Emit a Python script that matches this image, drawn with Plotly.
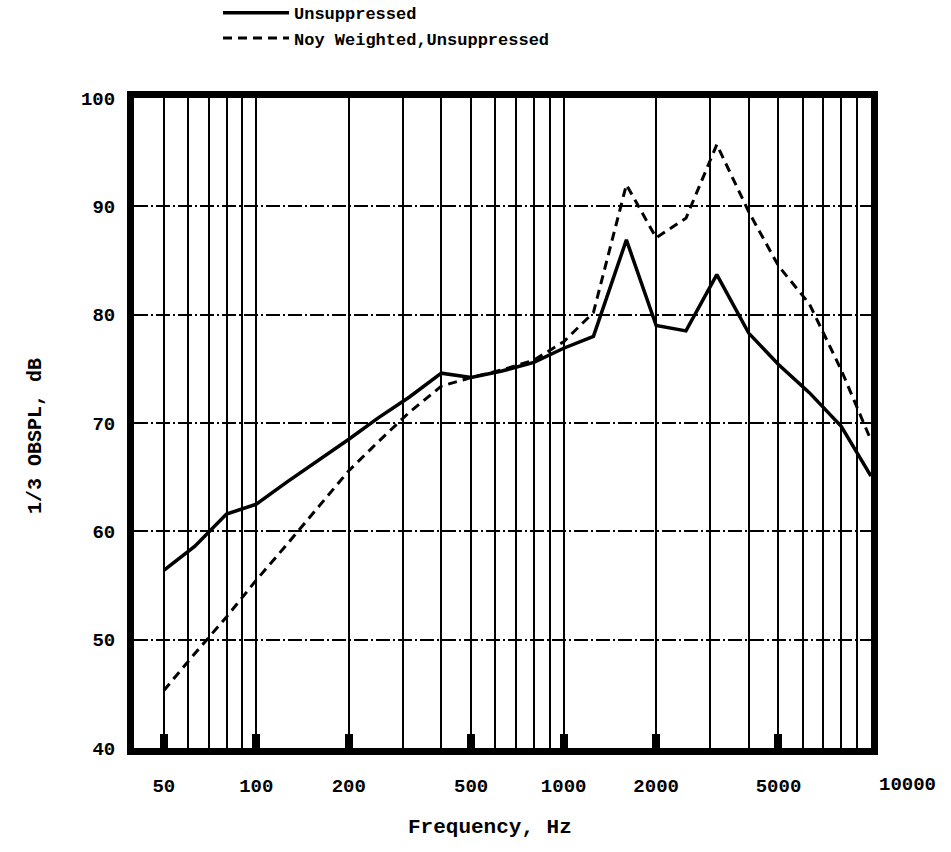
import plotly.graph_objects as go
import math

# ---- data ----
freqs = [50, 63, 80, 100, 125, 160, 200, 250, 315, 400, 500, 630, 800,
         1000, 1250, 1600, 2000, 2500, 3150, 4000, 5000, 6300, 8000, 10000]
unsuppressed = [56.4, 58.6, 61.6, 62.5, 64.5, 66.6, 68.5, 70.5, 72.4, 74.6,
                74.2, 74.8, 75.6, 76.9, 78.0, 86.9, 79.0, 78.5, 83.7, 78.3,
                75.4, 72.8, 69.7, 65.1]
noy_weighted = [45.3, 48.7, 52.1, 55.5, 58.7, 62.3, 65.6, 68.3, 71.0, 73.4,
                74.2, 74.9, 75.8, 77.5, 80.2, 92.0, 87.1, 88.9, 95.7, 89.5,
                84.5, 81.0, 74.9, 68.4]

x_tick_vals = [50, 100, 200, 500, 1000, 2000, 5000]
x_tick_text = ["50", "100", "200", "500", "1000", "2000", "5000"]
x_last_label = "10000"
x_minor_grid = [60, 70, 80, 90, 300, 400, 600, 700, 800, 900,
                3000, 4000, 6000, 7000, 8000, 9000]
y_tick_vals = [40, 50, 60, 70, 80, 90, 100]

FONT = "Liberation Mono"
L, R = 134, 80
PW = 951 - L - R

fig = go.Figure()
fig.add_trace(go.Scatter(
    x=freqs, y=unsuppressed, mode="lines", name="Unsuppressed",
    line=dict(color="black", width=3.5)))
fig.add_trace(go.Scatter(
    x=freqs, y=noy_weighted, mode="lines", name="Noy Weighted,Unsuppressed",
    line=dict(color="black", width=3, dash="9px,6px")))

fig.update_layout(
    width=951, height=852,
    margin=dict(l=L, r=R, t=98, b=104, autoexpand=False),
    paper_bgcolor="white", plot_bgcolor="white",
    font=dict(family=FONT, color="black", size=19),
    showlegend=True,
    legend=dict(
        x=(218 - L) / PW, y=1.158, xanchor="left", yanchor="top",
        bgcolor="rgba(0,0,0,0)",
        font=dict(family=FONT, size=17, weight="bold"),
        tracegroupgap=0, itemwidth=66,
    ),
    xaxis=dict(
        type="log",
        range=[math.log10(40), math.log10(10000)],
        tickvals=x_tick_vals, ticktext=x_tick_text,
        ticks="inside", ticklen=14, tickwidth=8, tickcolor="black",
        ticklabelstandoff=14,
        tickfont=dict(family=FONT, size=19, weight="bold"),
        showgrid=True, gridcolor="black", gridwidth=2,
        minor=dict(tickvals=x_minor_grid, showgrid=True,
                   gridcolor="black", gridwidth=2, ticks=""),
        showline=True, linecolor="black", linewidth=7, mirror=True,
        zeroline=False,
    ),
    yaxis=dict(
        range=[40, 100],
        tickvals=y_tick_vals,
        ticks="",
        ticklabelstandoff=8,
        tickfont=dict(family=FONT, size=19, weight="bold"),
        showgrid=True, gridcolor="black", gridwidth=1.5,
        griddash="14px,3px,2px,3px",
        showline=True, linecolor="black", linewidth=7, mirror=True,
        zeroline=False,
    ),
    annotations=[
        dict(x=4, y=-0.057, xref="x", yref="paper", text=x_last_label,
             showarrow=False, xshift=36, yanchor="middle",
             font=dict(family=FONT, size=19, weight="bold")),
        dict(x=(490 - L) / PW, y=-0.123, xref="paper", yref="paper",
             text="Frequency, Hz", showarrow=False, yanchor="middle",
             font=dict(family=FONT, size=21, weight="bold")),
        dict(x=(35 - L) / PW, y=0.48, xref="paper", yref="paper",
             text="1/3 OBSPL, dB", showarrow=False, textangle=-90,
             xanchor="center", yanchor="middle",
             font=dict(family=FONT, size=20, weight="bold")),
    ],
)

fig.write_html("out.html")
